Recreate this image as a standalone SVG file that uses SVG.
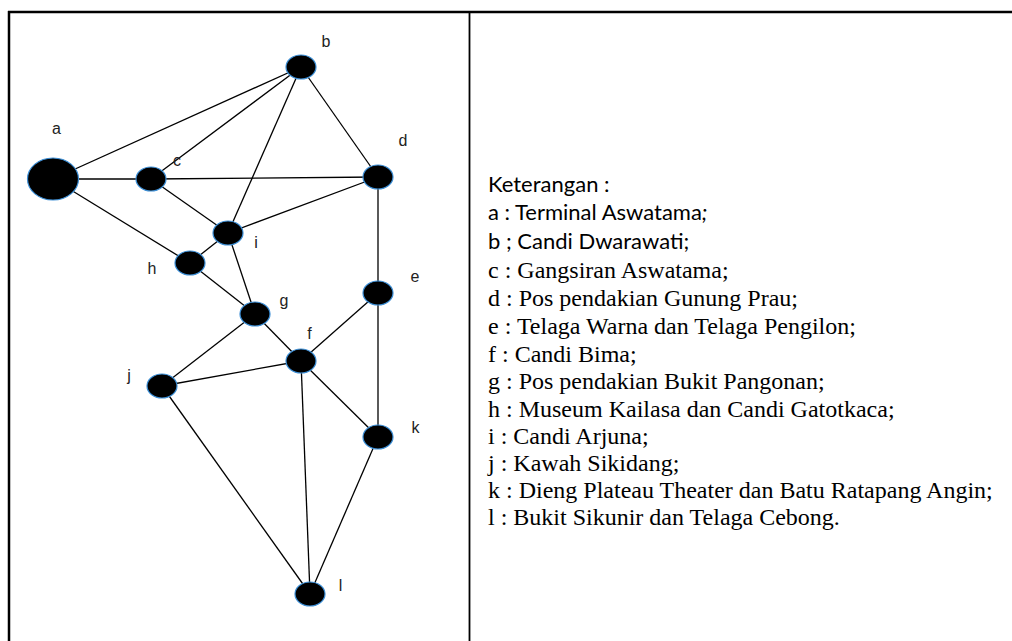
<svg xmlns="http://www.w3.org/2000/svg" width="1012" height="641" viewBox="0 0 1012 641">
<style>
.frame{stroke:#000;fill:none}
.edge{stroke:#000;stroke-width:1.3;fill:none}
.node{fill:#000;stroke:#3b8ed6;stroke-width:1.2}
.lbl{font-family:"Liberation Sans",Arial,sans-serif;font-size:16px;fill:#222;text-anchor:middle}
.sans{font-family:"Lato","Open Sans","Noto Sans",sans-serif;font-size:22px;fill:#000}
.serif{font-family:"Liberation Serif","Times New Roman",serif;font-size:24px;fill:#000}
</style>
<rect width="1012" height="641" fill="#fff"/>
<g id="frame">
<line class="frame" x1="8" y1="12" x2="1012" y2="12" stroke-width="2.5"/>
<line class="frame" x1="9" y1="11" x2="9" y2="641" stroke-width="2.5"/>
<line class="frame" x1="469.5" y1="12" x2="469.5" y2="641" stroke-width="1.8"/>
</g>
<g id="connectors">
<line class="edge" x1="53" y1="179" x2="301" y2="67"/>
<line class="edge" x1="53" y1="179" x2="151" y2="179"/>
<line class="edge" x1="53" y1="179" x2="190" y2="263"/>
<line class="edge" x1="301" y1="67" x2="151" y2="179"/>
<line class="edge" x1="301" y1="67" x2="228" y2="233"/>
<line class="edge" x1="301" y1="67" x2="378" y2="177"/>
<line class="edge" x1="151" y1="179" x2="378" y2="177"/>
<line class="edge" x1="151" y1="179" x2="228" y2="233"/>
<line class="edge" x1="378" y1="177" x2="228" y2="233"/>
<line class="edge" x1="378" y1="177" x2="378" y2="293"/>
<line class="edge" x1="190" y1="263" x2="228" y2="233"/>
<line class="edge" x1="190" y1="263" x2="255" y2="314"/>
<line class="edge" x1="228" y1="233" x2="255" y2="314"/>
<line class="edge" x1="255" y1="314" x2="162" y2="386"/>
<line class="edge" x1="255" y1="314" x2="301" y2="361"/>
<line class="edge" x1="301" y1="361" x2="378" y2="293"/>
<line class="edge" x1="301" y1="361" x2="162" y2="386"/>
<line class="edge" x1="301" y1="361" x2="378" y2="437"/>
<line class="edge" x1="301" y1="361" x2="310" y2="594"/>
<line class="edge" x1="378" y1="293" x2="378" y2="437"/>
<line class="edge" x1="162" y1="386" x2="310" y2="594"/>
<line class="edge" x1="378" y1="437" x2="310" y2="594"/>
</g>
<g id="node-a"><ellipse class="node" cx="53" cy="179" rx="25.5" ry="21"/><text class="lbl" x="56.5" y="134">a</text></g>
<g id="node-b"><ellipse class="node" cx="301" cy="67" rx="15" ry="12"/><text class="lbl" x="326" y="47">b</text></g>
<g id="node-c"><ellipse class="node" cx="151" cy="179" rx="15" ry="12"/><text class="lbl" x="177" y="165.5">c</text></g>
<g id="node-d"><ellipse class="node" cx="378" cy="177" rx="15" ry="12"/><text class="lbl" x="403" y="145.5">d</text></g>
<g id="node-e"><ellipse class="node" cx="378" cy="293" rx="15" ry="12"/><text class="lbl" x="415" y="282">e</text></g>
<g id="node-f"><ellipse class="node" cx="301" cy="361" rx="15" ry="12"/><text class="lbl" x="309.5" y="339">f</text></g>
<g id="node-g"><ellipse class="node" cx="255" cy="314" rx="15" ry="12"/><text class="lbl" x="284" y="306">g</text></g>
<g id="node-h"><ellipse class="node" cx="190" cy="263" rx="15" ry="12"/><text class="lbl" x="152" y="274">h</text></g>
<g id="node-i"><ellipse class="node" cx="228" cy="233" rx="15" ry="12"/><text class="lbl" x="256" y="248">i</text></g>
<g id="node-j"><ellipse class="node" cx="162" cy="386" rx="15" ry="12"/><text class="lbl" x="129" y="381">j</text></g>
<g id="node-k"><ellipse class="node" cx="378" cy="437" rx="15" ry="12"/><text class="lbl" x="415.5" y="433">k</text></g>
<g id="node-l"><ellipse class="node" cx="310" cy="594" rx="15" ry="12"/><text class="lbl" x="340.5" y="590.5">l</text></g>
<g id="legend">
<text class="sans" x="488" y="192">Keterangan :</text>
<text class="sans" x="488" y="220">a : Terminal Aswatama<tspan font-style="italic">;</tspan></text>
<text class="sans" x="488" y="249">b ; Candi Dwarawati;</text>
<text class="serif" x="488" y="278">c : Gangsiran Aswatama;</text>
<text class="serif" x="488" y="306">d : Pos pendakian Gunung Prau;</text>
<text class="serif" x="488" y="334">e : Telaga Warna dan Telaga Pengilon;</text>
<text class="serif" x="488" y="362">f : Candi Bima;</text>
<text class="serif" x="488" y="389">g : Pos pendakian Bukit Pangonan;</text>
<text class="serif" x="488" y="417">h : Museum Kailasa dan Candi Gatotkaca;</text>
<text class="serif" x="488" y="444">i : Candi Arjuna;</text>
<text class="serif" x="488" y="471">j : Kawah Sikidang;</text>
<text class="serif" x="488" y="498">k : Dieng Plateau Theater dan Batu Ratapang Angin;</text>
<text class="serif" x="488" y="525">l : Bukit Sikunir dan Telaga Cebong.</text>
</g>
</svg>
